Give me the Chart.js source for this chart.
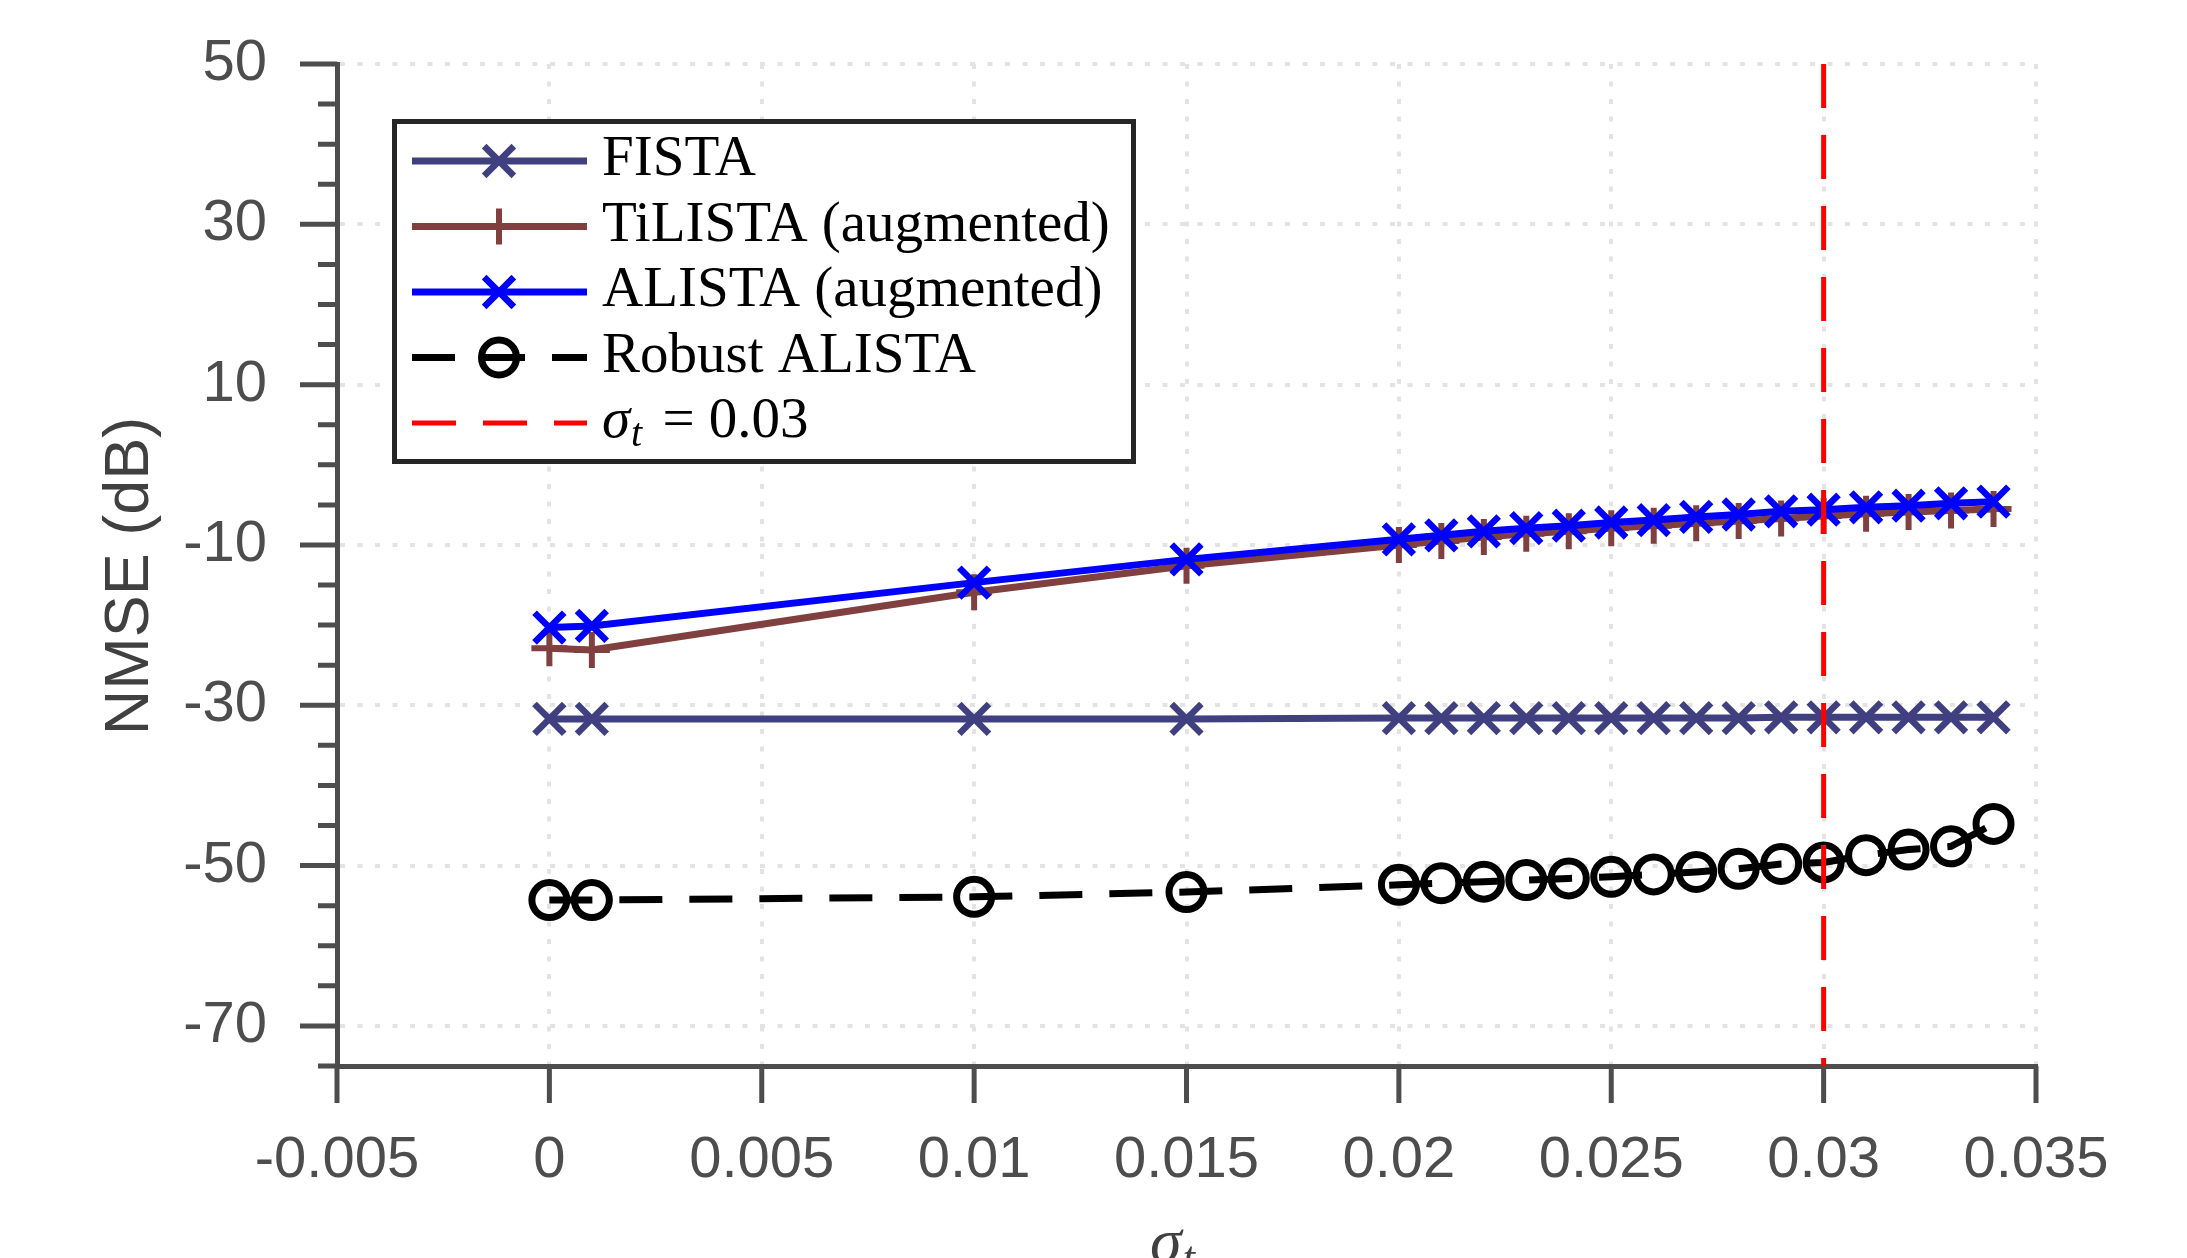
<!DOCTYPE html>
<html>
<head>
<meta charset="utf-8">
<script src="https://cdn.jsdelivr.net/npm/chart.js@4.4.1/dist/chart.umd.min.js"></script>
<style>
	html, body { margin: 0; padding: 0; background: #fff; overflow: hidden; }
	canvas { display: block; }
</style>
</head>
<body>
<canvas id="nmseChart" width="2187" height="1258"></canvas>
<script>
// sigma_t values on the x axis
const sigmaT = [0, 0.001, 0.01, 0.015, 0.02, 0.021, 0.022, 0.023, 0.024, 0.025, 0.026, 0.027, 0.028, 0.029, 0.03, 0.031, 0.032, 0.033, 0.034];

// NMSE in dB
const fista = [-31.7, -31.7, -31.7, -31.7, -31.6, -31.6, -31.6, -31.6, -31.6, -31.6, -31.6, -31.6, -31.6, -31.5, -31.5, -31.5, -31.5, -31.5, -31.5];
const tilista = [-22.9, -23.1, -15.9, -12.6, -10.0, -9.5, -9.0, -8.6, -8.3, -7.9, -7.6, -7.3, -7.0, -6.7, -6.4, -6.1, -5.9, -5.7, -5.5];
const alista = [-20.3, -20.1, -14.7, -11.8, -9.3, -8.8, -8.3, -7.9, -7.6, -7.2, -6.9, -6.5, -6.2, -5.8, -5.6, -5.3, -5.1, -4.8, -4.6];
const robustAlista = [-54.3, -54.3, -53.9, -53.3, -52.4, -52.2, -52.0, -51.8, -51.6, -51.4, -51.1, -50.8, -50.4, -49.8, -49.6, -48.7, -48.0, -47.6, -44.8];

const thresholdSigma = 0.03;

// axes
const xMin = -0.005;
const xMax = 0.035;
const xTicks = [-0.005, 0, 0.005, 0.01, 0.015, 0.02, 0.025, 0.03, 0.035];
const xTickLabels = ['-0.005', '0', '0.005', '0.01', '0.015', '0.02', '0.025', '0.03', '0.035'];
const yMin = -75;
const yMax = 50;
const yTicks = [-70, -50, -30, -10, 10, 30, 50];
const yTickLabels = ['-70', '-50', '-30', '-10', '10', '30', '50'];
const yMinorTicks = [-75, -65, -60, -55, -45, -40, -35, -25, -20, -15, -5, 0, 5, 15, 20, 25, 35, 40, 45];

const seriesNames = ['FISTA', 'TiLISTA (augmented)', 'ALISTA (augmented)', 'Robust ALISTA'];

const ink = '#4d4d4d';
const sansFont = '"Liberation Sans", Arial, Helvetica, sans-serif';
const serifFont = '"Liberation Serif", "Times New Roman", serif';

function toPoints(values) {
	return sigmaT.map((s, i) => ({ x: s, y: values[i] }));
}

function drawTickMarks(chart) {
	const { ctx, chartArea: a } = chart;
	const x = chart.scales.x;
	const y = chart.scales.y;
	ctx.save();
	ctx.strokeStyle = ink;
	ctx.lineWidth = 5;
	ctx.beginPath();
	yMinorTicks.forEach(v => {
		const p = y.getPixelForValue(v);
		ctx.moveTo(a.left - 19, p);
		ctx.lineTo(a.left, p);
	});
	yTicks.forEach(v => {
		const p = y.getPixelForValue(v);
		ctx.moveTo(a.left - 37, p);
		ctx.lineTo(a.left, p);
	});
	xTicks.forEach(v => {
		const p = x.getPixelForValue(v);
		ctx.moveTo(p, a.bottom);
		ctx.lineTo(p, a.bottom + 37);
	});
	ctx.stroke();
	ctx.restore();
}

function drawSigmaT(ctx, x, baseline, size, color) {
	ctx.fillStyle = color;
	ctx.font = 'italic ' + size + 'px ' + serifFont;
	ctx.textAlign = 'left';
	ctx.textBaseline = 'alphabetic';
	ctx.fillText('σ', x, baseline);
	const w = ctx.measureText('σ').width;
	ctx.font = 'italic ' + Math.round(size * 0.7) + 'px ' + serifFont;
	ctx.fillText('t', x + w + 1, baseline + size * 0.15);
	return x + w + 1 + ctx.measureText('t').width;
}

function drawLegend(chart) {
	const ctx = chart.ctx;
	const box = { left: 394.5, top: 121.5, width: 739, height: 340 };
	ctx.save();
	ctx.fillStyle = '#fff';
	ctx.fillRect(box.left, box.top, box.width, box.height);
	ctx.lineWidth = 5;
	ctx.strokeStyle = '#262626';
	ctx.setLineDash([]);
	ctx.strokeRect(box.left, box.top, box.width, box.height);

	chart.data.datasets.forEach((ds, i) => {
		const rowY = 161 + i * 65.5;
		ctx.strokeStyle = ds.borderColor;
		ctx.lineWidth = ds.borderWidth;
		ctx.setLineDash(ds.borderDash || []);
		ctx.beginPath();
		ctx.moveTo(412, rowY);
		ctx.lineTo(587, rowY);
		ctx.stroke();
		ctx.setLineDash([]);
		if (ds.pointRadius > 0) {
			ctx.lineWidth = ds.pointBorderWidth;
			ctx.strokeStyle = ds.borderColor;
			ctx.fillStyle = 'rgba(0,0,0,0)';
			Chart.helpers.drawPoint(ctx, { pointStyle: ds.pointStyle, radius: ds.pointRadius, borderWidth: ds.pointBorderWidth, rotation: 0 }, 499, rowY);
		}
		const base = rowY + 14;
		if (ds.isThreshold) {
			const end = drawSigmaT(ctx, 602, base, 57, '#000');
			ctx.font = '57px ' + serifFont;
			ctx.fillText(' = ' + thresholdSigma.toFixed(2), end + 6, base);
		} else {
			ctx.fillStyle = '#000';
			ctx.font = '57px ' + serifFont;
			ctx.textAlign = 'left';
			ctx.textBaseline = 'alphabetic';
			ctx.fillText(ds.label, 602, base);
		}
	});
	ctx.restore();
}

function drawTitles(chart) {
	const ctx = chart.ctx;
	ctx.save();
	ctx.fillStyle = '#404040';
	ctx.font = '63px ' + sansFont;
	ctx.textAlign = 'center';
	ctx.textBaseline = 'alphabetic';
	ctx.translate(148, 576);
	ctx.rotate(-Math.PI / 2);
	ctx.fillText('NMSE (dB)', 0, 0);
	ctx.restore();

	ctx.save();
	drawSigmaT(ctx, 1150, 1262, 64, '#404040');
	ctx.restore();
}

const figurePlugin = {
	id: 'figureDecor',
	afterDatasetsDraw(chart) {
		drawLegend(chart);
	},
	afterDraw(chart) {
		drawTickMarks(chart);
		drawTitles(chart);
	}
};

function createChart() {
	const ctx = document.getElementById('nmseChart').getContext('2d');
	new Chart(ctx, {
		type: 'line',
		data: {
			datasets: [
				{
					label: seriesNames[0],
					data: toPoints(fista),
					borderColor: 'rgb(64,64,128)',
					borderWidth: 7,
					pointStyle: 'crossRot',
					pointRadius: 21,
					pointBorderWidth: 6.5,
					pointBorderColor: 'rgb(64,64,128)',
					order: 5
				},
				{
					label: seriesNames[1],
					data: toPoints(tilista),
					borderColor: 'rgb(128,64,64)',
					borderWidth: 7,
					pointStyle: 'cross',
					pointRadius: 18,
					pointBorderWidth: 6,
					pointBorderColor: 'rgb(128,64,64)',
					order: 4
				},
				{
					label: seriesNames[2],
					data: toPoints(alista),
					borderColor: 'rgb(0,0,255)',
					borderWidth: 7,
					pointStyle: 'crossRot',
					pointRadius: 21,
					pointBorderWidth: 6.5,
					pointBorderColor: 'rgb(0,0,255)',
					order: 3
				},
				{
					label: seriesNames[3],
					data: toPoints(robustAlista),
					borderColor: '#000',
					borderWidth: 7,
					borderDash: [43, 27],
					pointStyle: 'circle',
					pointRadius: 17.5,
					pointBorderWidth: 7,
					pointBorderColor: '#000',
					pointBackgroundColor: 'rgba(0,0,0,0)',
					order: 2
				},
				{
					label: 'threshold',
					isThreshold: true,
					data: [{ x: thresholdSigma, y: yMax }, { x: thresholdSigma, y: yMin }],
					borderColor: 'rgb(255,0,0)',
					borderWidth: 5,
					borderDash: [44, 27],
					pointRadius: 0,
					order: 1
				}
			]
		},
		options: {
			responsive: false,
			devicePixelRatio: 1,
			animation: false,
			events: [],
			layout: { padding: { top: 64, right: 151, left: 0, bottom: 0 } },
			elements: { line: { tension: 0, fill: false, borderCapStyle: 'butt' } },
			plugins: {
				legend: { display: false },
				tooltip: { enabled: false }
			},
			scales: {
				x: {
					type: 'linear',
					min: xMin,
					max: xMax,
					afterBuildTicks: s => { s.ticks = xTicks.map(v => ({ value: v })); },
					afterFit: s => { s.height = 192; s.paddingLeft = 0; s.paddingRight = 0; },
					ticks: {
						autoSkip: false,
						maxRotation: 0,
						padding: 60,
						color: ink,
						font: { family: sansFont, size: 58 },
						callback: (v, i) => xTickLabels[i]
					},
					grid: { color: '#e3e3e3', lineWidth: 4, drawTicks: false },
					border: { display: true, color: ink, width: 5, dash: [5, 12.5] }
				},
				y: {
					type: 'linear',
					min: yMin,
					max: yMax,
					afterBuildTicks: s => { s.ticks = yTicks.map(v => ({ value: v })); },
					afterFit: s => { s.width = 337; s.paddingTop = 0; s.paddingBottom = 0; },
					ticks: {
						padding: 70,
						color: ink,
						font: { family: sansFont, size: 58 },
						callback: (v, i) => yTickLabels[i]
					},
					grid: { color: '#e3e3e3', lineWidth: 4, drawTicks: false },
					border: { display: true, color: ink, width: 5, dash: [5, 12.5] }
				}
			}
		},
		plugins: [figurePlugin]
	});
}

document.addEventListener('DOMContentLoaded', createChart);
</script>
</body>
</html>
